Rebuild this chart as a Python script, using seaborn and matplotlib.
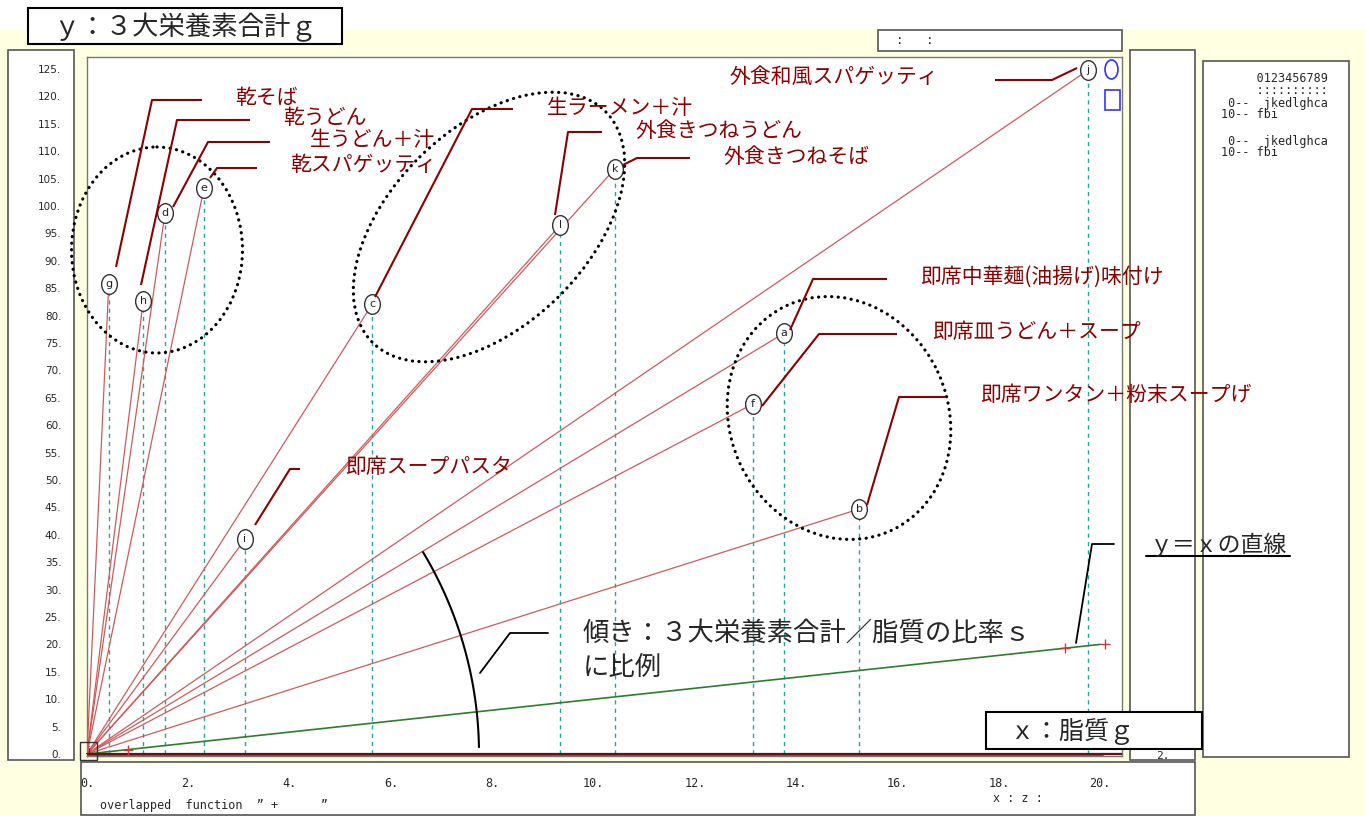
import numpy as np
import pandas as pd
import matplotlib
matplotlib.use("Agg")
import matplotlib.pyplot as plt
import seaborn as sns
from matplotlib.patches import Rectangle, Ellipse
from matplotlib.path import Path
from matplotlib.transforms import Affine2D, offset_copy

# ---------------- data ----------------
codes = ["a", "b", "c", "d", "e", "f", "g", "h", "i", "j", "k", "l"]
foods = ["即席中華麺(油揚げ)味付け", "即席ワンタン＋粉末スープげ", "生ラーメン＋汁", "生うどん＋汁",
         "乾スパゲッティ", "即席皿うどん＋スープ", "乾そば", "乾うどん", "即席スープパスタ",
         "外食和風スパゲッティ", "外食きつねそば", "外食きつねうどん"]
fat = [13.76, 15.24, 5.63, 1.54, 2.31, 13.15, 0.43, 1.11, 3.12, 19.76, 10.42, 9.34]      # x: 脂質 g
total = [76.8, 44.7, 82.1, 98.7, 103.3, 63.9, 85.8, 82.7, 39.2, 124.8, 106.8, 96.5]      # y: 3大栄養素合計 g
yx_line = [0.0, 20.0]
plus_x = [0.8, 19.3, 20.1]
base_red = [0.0, 20.06]
x_ticks = [0, 2, 4, 6, 8, 10, 12, 14, 16, 18, 20]
x_tick_labels = [f"{v}." for v in x_ticks]
y_ticks = list(range(0, 130, 5))
y_tick_labels = [f"{v}." for v in y_ticks]

JP = ["Noto Sans CJK JP", "DejaVu Sans"]
DARKRED = "#8b0000"

sns.set_style("white")
plt.rcParams["font.family"] = JP

W, H = 1365, 816
fig = plt.figure(figsize=(W / 100, H / 100), dpi=100, facecolor="white")

# ---------------- background panels ----------------
bg = fig.add_axes([0, 0, 1, 1], zorder=0)
bg.set_xlim(0, W); bg.set_ylim(H, 0); bg.axis("off")
bg.add_patch(Rectangle((0, 30), W, H - 30, fc="#ffffe1", ec="none"))
for (x0, y0, w, h) in [(8, 50, 66, 710), (88, 30, 244, 14), (878, 30, 244, 21),
                       (1130, 50, 65, 698), (1203, 61, 146, 696), (81, 762, 1114, 53),
                       (1130, 749, 65, 11)]:
    bg.add_patch(Rectangle((x0, y0), w, h, fc="white", ec="#555555", lw=1.2))
bg.text(900, 41, ":", ha="center", va="center", fontsize=9, family="DejaVu Sans Mono")
bg.text(930, 41, ":", ha="center", va="center", fontsize=9, family="DejaVu Sans Mono")
bg.text(100, 805, "overlapped  function  ” +      ”", ha="left", va="center",
        fontsize=8.5, family=["DejaVu Sans Mono"])
bg.text(993, 799, "x : z :", ha="left", va="center", fontsize=8.5, family="DejaVu Sans Mono")
bg.text(1163, 756, "2.", ha="center", va="center", fontsize=8, family="DejaVu Sans Mono")
legend_lines = ["     0123456789", "     ::::::::::", " 0--  jkedlghca", "10-- fbi",
                "", " 0--  jkedlghca", "10-- fbi"]
for k, line in enumerate(legend_lines):
    yy = [79, 90, 103, 114, 0, 141, 152][k]
    if line:
        bg.text(1221, yy, line, ha="left", va="center", fontsize=8.5, family="DejaVu Sans Mono")

# ---------------- main axes ----------------
L, R, B, T = 87, 1122, 756, 57
ax = fig.add_axes([L / W, 1 - B / H, (R - L) / W, (B - T) / H], zorder=1)
ax.set_facecolor("white")
ax.set_xlim(0, 20.43)
ax.set_ylim(-0.365, 127.19)

rays = pd.DataFrame({
    "code": np.repeat(codes, 2),
    "x": np.ravel(np.column_stack([np.zeros(len(fat)), fat])),
    "y": np.ravel(np.column_stack([np.zeros(len(total)), total])),
})
sns.lineplot(data=rays, x="x", y="y", units="code", estimator=None, sort=False,
             color="#cf5a5a", lw=0.9, ax=ax, zorder=3)
ax.vlines(fat, 0, total, colors="#2a9fa0", linestyles=(0, (3, 3)), lw=1.0, zorder=2)

sns.lineplot(x=yx_line, y=yx_line, color="#2e7d2e", lw=1.2, ax=ax, zorder=3)
sns.scatterplot(x=plus_x, y=plus_x, marker="+", color="#c04040", s=45, linewidth=1.0,
                ax=ax, zorder=4)

# base lines at y = 0
sns.lineplot(x=[0.0, 20.43], y=[0.0, 0.0], color="#6a1010", lw=1.6, ax=ax, zorder=3)
off = offset_copy(ax.transData, fig=fig, x=0, y=-1.8, units="dots")
ax.plot(base_red, [0.0, 0.0], color="#e02525", lw=1.4, transform=off, zorder=3)

ell = Path.unit_circle().transformed(Affine2D().scale(0.8, 1.0))
sns.scatterplot(x=fat, y=total, marker=ell, s=200, facecolor="white", edgecolor="#333333",
                linewidth=1.0, ax=ax, zorder=5)
for c, xv, yv in zip(codes, fat, total):
    ax.text(xv, yv, c, ha="center", va="center", fontsize=8, color="#222222",
            family="DejaVu Sans", zorder=6)

ax.set_xticks(x_ticks)
ax.set_xticklabels(x_tick_labels)
ax.set_yticks(y_ticks)
ax.set_yticklabels(y_tick_labels)
ax.tick_params(axis="x", direction="out", length=10.8, width=1.0, color="#333333", pad=4,
               labelsize=8.5, labelfontfamily="DejaVu Sans Mono")
ax.tick_params(axis="y", length=0, pad=18.5, labelsize=7.5, labelfontfamily="DejaVu Sans")
ax.set_xlabel(""); ax.set_ylabel("")
for s in ax.spines.values():
    s.set_color("#777777"); s.set_linewidth(1.0)

# ---------------- foreground annotations ----------------
fg = fig.add_axes([0, 0, 1, 1], zorder=3)
fg.set_xlim(0, W); fg.set_ylim(H, 0); fg.axis("off")
fg.patch.set_alpha(0)

# title boxes
fg.add_patch(Rectangle((28, 8), 314, 36, fc="white", ec="black", lw=1.5))
fg.text(185, 27, "ｙ：３大栄養素合計ｇ", ha="center", va="center", fontsize=19, family=JP)
fg.add_patch(Rectangle((986, 712), 216, 37, fc="white", ec="black", lw=1.5))
fg.text(1009, 732, "ｘ：脂質ｇ", ha="left", va="center", fontsize=18, family=JP)
fg.add_patch(Rectangle((80, 742), 17, 18, fc="none", ec="#333333", lw=1.0))
fg.text(88, 751, ".i", ha="center", va="center", fontsize=7, family="DejaVu Sans")

# blue legend symbols
fg.add_patch(Ellipse((1111.5, 69.5), 13, 19, fc="none", ec="#3333ff", lw=1.2))
fg.add_patch(Rectangle((1105, 90), 15, 20, fc="none", ec="#3333ff", lw=1.2))

# dotted group ellipses
dot = dict(fill=False, ec="black", lw=2.3, ls=(0, (0.05, 2.0)), capstyle="round")
fg.add_patch(Ellipse((157, 250), 171, 206, angle=0, **dot))
fg.add_patch(Ellipse((489, 227), 328, 197, angle=-44.6, **dot))
fg.add_patch(Ellipse((839, 418), 248, 218, angle=65, **dot))

# labels and leaders
labels = {
    "j": ((730, 77), [(995, 80), (1052, 80), (1077, 68)]),
    "g": ((235, 98), [(202, 100), (152, 100), (116, 267)]),
    "h": ((283, 118), [(250, 120), (177, 120), (141, 285)]),
    "d": ((310, 140), [(270, 142), (208, 142), (173, 207)]),
    "e": ((290, 165), [(257, 168), (217, 168), (210, 178)]),
    "c": ((547, 108), [(513, 109), (472, 109), (375, 297)]),
    "l": ((635, 131), [(602, 132), (568, 132), (555, 215)]),
    "k": ((723, 157), [(690, 158), (637, 158), (623, 165)]),
    "a": ((920, 277), [(887, 279), (813, 279), (790, 330)]),
    "f": ((932, 332), [(897, 334), (819, 334), (762, 406)]),
    "b": ((980, 395), [(946, 397), (899, 397), (867, 505)]),
    "i": ((345, 467), [(300, 469), (290, 469), (255, 525)]),
}
for c, name in zip(codes, foods):
    (tx, ty), pts = labels[c]
    fg.text(tx, ty, name, ha="left", va="center", fontsize=15, color=DARKRED, family=JP)
    xs, ys = zip(*pts)
    fg.plot(xs, ys, color=DARKRED, lw=1.5, solid_capstyle="butt")

# y = x annotation
fg.text(1150, 545, "ｙ＝ｘの直線", ha="left", va="center", fontsize=16.5, family=JP)
fg.plot([1146, 1290], [556, 556], color="black", lw=1.5)
fg.plot([1114, 1092, 1076], [544, 544, 643], color="black", lw=1.3)

# slope annotation
fg.text(583, 633, "傾き：３大栄養素合計／脂質の比率ｓ", ha="left", va="center", fontsize=19, family=JP)
fg.text(583, 667, "に比例", ha="left", va="center", fontsize=19, family=JP)
fg.plot([548, 510, 480], [633, 633, 673], color="black", lw=1.3)
t = np.radians(np.linspace(1, 31, 60))
fg.plot(87 + 392 * np.cos(t), 754 - 392 * np.sin(t), color="black", lw=1.5)

fig.savefig("out.png", dpi=100, facecolor="white")
